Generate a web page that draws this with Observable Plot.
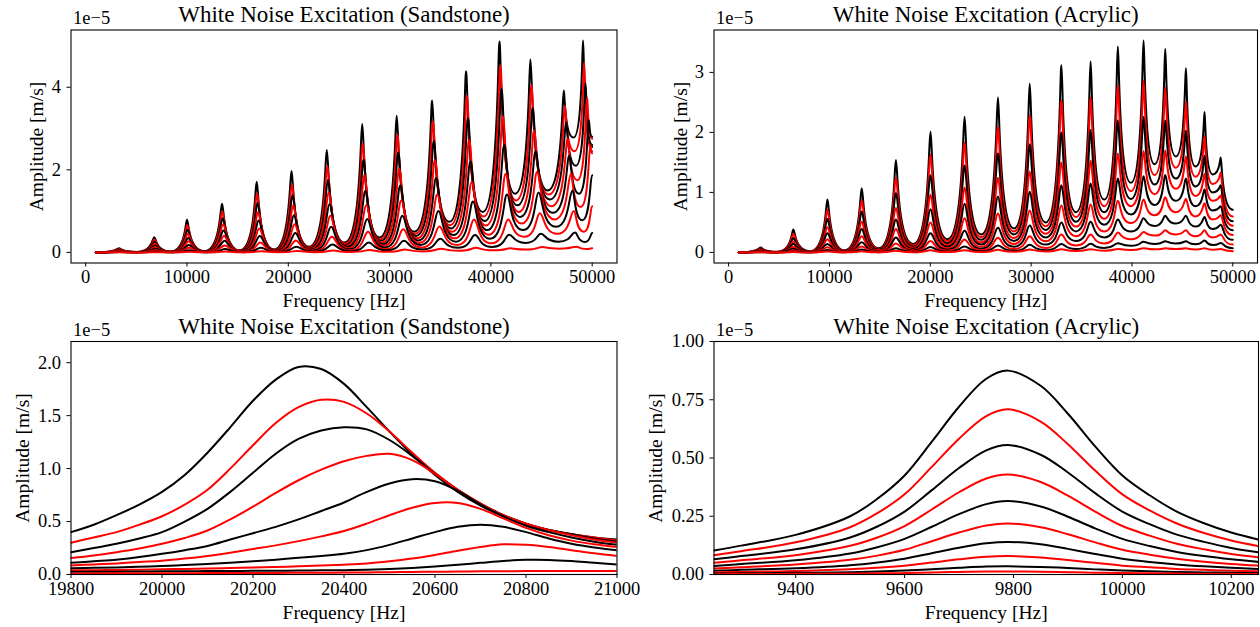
<!DOCTYPE html>
<html><head><meta charset="utf-8">
<script src="https://cdn.jsdelivr.net/npm/d3@7"></script>
<script src="https://cdn.jsdelivr.net/npm/@observablehq/plot@0.6"></script>
<style>
body{margin:0;background:#fff;}
#fig{position:relative;width:1260px;height:627px;overflow:hidden;background:#fff;}
#fig svg{position:absolute;overflow:visible;}
</style></head><body><div id="fig"></div>
<script>
// ---------- shared ----------
const curveColors = ["black","red","black","red","black","red","black","red","black","red"];
const xTicksWide = [0, 10000, 20000, 30000, 40000, 50000];

// ---------- Sandstone, full band (amplitudes in 1e-5 m/s) ----------
const sandPeakHz = [3300, 6770, 10000, 13460, 16880, 20320, 23800, 27300, 30700, 34200, 37550, 40850, 43900, 47200, 49100];
const sandValleyHz = [1000, 5000, 8400, 11700, 15200, 18600, 22050, 25550, 29000, 32450, 35900, 39200, 42400, 45600, 48150];
// resonance frequency of each curve for the ~20.3 kHz mode
const sandModeHz = [20320, 20365, 20420, 20486, 20555, 20624, 20691, 20750, 20800, 20850];
const sandPeakAmp = [
  [0.10, 0.37, 0.79, 1.18, 1.71, 1.97, 2.48, 3.11, 3.31, 3.68, 4.39, 5.11, 4.67, 3.92, 5.13],
  [0.084, 0.31, 0.66, 0.99, 1.43, 1.65, 2.10, 2.64, 2.85, 3.17, 3.80, 4.53, 4.05, 3.55, 4.60],
  [0.07, 0.26, 0.55, 0.83, 1.20, 1.39, 1.76, 2.24, 2.42, 2.69, 3.25, 3.96, 3.50, 3.15, 4.10],
  [0.058, 0.21, 0.45, 0.68, 0.98, 1.14, 1.46, 1.87, 2.02, 2.24, 2.72, 3.30, 2.95, 2.75, 3.75],
  [0.046, 0.17, 0.35, 0.53, 0.77, 0.90, 1.17, 1.49, 1.62, 1.80, 2.20, 2.60, 2.45, 2.35, 3.20],
  [0.034, 0.125, 0.27, 0.40, 0.58, 0.68, 0.89, 1.15, 1.26, 1.40, 1.70, 1.90, 1.95, 1.90, 2.60],
  [0.024, 0.087, 0.18, 0.28, 0.40, 0.47, 0.62, 0.81, 0.89, 1.00, 1.23, 1.40, 1.45, 1.50, 1.87],
  [0.014, 0.053, 0.11, 0.17, 0.24, 0.29, 0.38, 0.50, 0.56, 0.63, 0.80, 0.80, 0.95, 1.00, null],
  [0.007, 0.025, 0.05, 0.08, 0.115, 0.14, 0.19, 0.24, 0.28, 0.33, 0.42, 0.43, 0.45, 0.48, null],
  [0.002, 0.006, 0.013, 0.02, 0.028, 0.035, 0.047, 0.06, 0.07, 0.09, 0.11, 0.10, 0.13, 0.14, null]
];
const sandValleyAmp = [
  [0, 0.01, 0.02, 0.03, 0.05, 0.07, 0.14, 0.24, 0.36, 0.50, 0.74, 0.98, 1.42, 1.50, 2.78],
  [0, 0.008, 0.017, 0.025, 0.042, 0.06, 0.12, 0.21, 0.32, 0.45, 0.66, 0.87, 1.26, 1.40, 2.45],
  [0, 0.007, 0.014, 0.021, 0.035, 0.052, 0.105, 0.18, 0.28, 0.40, 0.58, 0.76, 1.14, 1.28, 2.10],
  [0, 0.006, 0.012, 0.017, 0.03, 0.045, 0.09, 0.155, 0.24, 0.34, 0.50, 0.65, 0.98, 1.12, 1.75],
  [0, 0.005, 0.009, 0.014, 0.025, 0.037, 0.075, 0.13, 0.20, 0.29, 0.42, 0.54, 0.86, 0.96, 1.42],
  [0, 0.004, 0.007, 0.011, 0.02, 0.03, 0.06, 0.10, 0.16, 0.23, 0.34, 0.43, 0.70, 0.80, 1.10],
  [0, 0.003, 0.005, 0.008, 0.015, 0.022, 0.045, 0.075, 0.12, 0.18, 0.26, 0.33, 0.54, 0.62, 0.78],
  [0, 0.002, 0.003, 0.005, 0.01, 0.015, 0.03, 0.05, 0.08, 0.12, 0.18, 0.22, 0.38, 0.45, 0.50],
  [0, 0.001, 0.002, 0.003, 0.006, 0.009, 0.018, 0.03, 0.05, 0.07, 0.11, 0.13, 0.23, 0.26, 0.25],
  [0, 0, 0.001, 0.001, 0.002, 0.003, 0.006, 0.01, 0.015, 0.025, 0.04, 0.05, 0.07, 0.09, 0.08]
];
const sandEndAmp = [2.55, 2.45, 2.60, 2.75, 2.80, 2.40, 1.87, 1.12, 0.47, 0.10];

// ---------- Sandstone, zoom on the ~20.3 kHz mode (50 Hz steps) ----------
const sandZoomHz = [19800, 19850, 19900, 19950, 20000, 20050, 20100, 20150, 20200, 20250, 20300, 20350, 20400,
                    20450, 20500, 20550, 20600, 20650, 20700, 20750, 20800, 20850, 20900, 20950, 21000];
const sandZoomAmp = [
  [0.40, 0.47, 0.56, 0.66, 0.78, 0.94, 1.15, 1.39, 1.64, 1.84, 1.96, 1.94, 1.80, 1.58, 1.35, 1.13, 0.94, 0.78, 0.65, 0.55, 0.47, 0.42, 0.38, 0.35, 0.33],
  [0.30, 0.35, 0.40, 0.47, 0.55, 0.66, 0.80, 1.00, 1.22, 1.43, 1.58, 1.65, 1.63, 1.52, 1.35, 1.15, 0.96, 0.80, 0.67, 0.56, 0.48, 0.42, 0.38, 0.35, 0.32],
  [0.21, 0.25, 0.29, 0.34, 0.40, 0.50, 0.62, 0.78, 0.96, 1.14, 1.28, 1.36, 1.39, 1.37, 1.27, 1.12, 0.95, 0.80, 0.67, 0.56, 0.48, 0.42, 0.38, 0.34, 0.31],
  [0.155, 0.18, 0.21, 0.245, 0.29, 0.345, 0.415, 0.52, 0.64, 0.77, 0.89, 0.99, 1.07, 1.12, 1.14, 1.08, 0.95, 0.80, 0.67, 0.56, 0.48, 0.42, 0.37, 0.33, 0.30],
  [0.11, 0.125, 0.14, 0.165, 0.195, 0.23, 0.27, 0.33, 0.39, 0.45, 0.52, 0.60, 0.68, 0.78, 0.86, 0.90, 0.88, 0.79, 0.66, 0.55, 0.46, 0.40, 0.35, 0.31, 0.28],
  [0.085, 0.095, 0.105, 0.118, 0.13, 0.15, 0.175, 0.205, 0.24, 0.275, 0.315, 0.36, 0.41, 0.48, 0.56, 0.63, 0.675, 0.675, 0.62, 0.53, 0.44, 0.37, 0.32, 0.285, 0.26],
  [0.06, 0.063, 0.067, 0.073, 0.08, 0.09, 0.10, 0.112, 0.125, 0.14, 0.158, 0.175, 0.195, 0.23, 0.28, 0.34, 0.40, 0.45, 0.47, 0.45, 0.40, 0.34, 0.29, 0.255, 0.23],
  [0.04, 0.041, 0.043, 0.046, 0.05, 0.053, 0.057, 0.061, 0.066, 0.071, 0.077, 0.084, 0.093, 0.105, 0.125, 0.15, 0.185, 0.225, 0.26, 0.285, 0.28, 0.26, 0.23, 0.20, 0.175],
  [0.025, 0.026, 0.027, 0.028, 0.03, 0.031, 0.032, 0.033, 0.035, 0.036, 0.037, 0.039, 0.041, 0.045, 0.052, 0.062, 0.075, 0.092, 0.11, 0.128, 0.139, 0.138, 0.127, 0.11, 0.095],
  [0.01, 0.0105, 0.011, 0.0115, 0.012, 0.0125, 0.013, 0.0135, 0.014, 0.015, 0.016, 0.017, 0.018, 0.02, 0.022, 0.024, 0.026, 0.028, 0.03, 0.031, 0.032, 0.033, 0.033, 0.033, 0.032]
];

// ---------- Acrylic, full band ----------
const acrylPeakHz = [3190, 6420, 9800, 13200, 16590, 20020, 23400, 26710, 29860, 33000, 35900, 38600, 41150, 43300, 45350, 47200, 48800];
const acrylValleyHz = [1000, 4800, 8100, 11500, 14900, 18300, 21700, 25050, 28300, 31450, 34450, 37250, 39900, 42250, 44350, 46300, 48000];
const acrylPeakAmp = [
  [0.083, 0.38, 0.88, 1.07, 1.54, 2.01, 2.26, 2.58, 2.81, 3.12, 3.18, 3.43, 3.53, 3.39, 3.07, 2.34, 1.58],
  [0.067, 0.31, 0.71, 0.87, 1.25, 1.63, 1.83, 2.09, 2.28, 2.53, 2.58, 2.78, 2.86, 2.75, 2.52, 1.94, 1.33],
  [0.053, 0.24, 0.56, 0.68, 0.99, 1.29, 1.45, 1.65, 1.80, 2.00, 2.04, 2.20, 2.26, 2.20, 2.03, 1.61, 1.12],
  [0.04, 0.18, 0.42, 0.51, 0.74, 0.96, 1.08, 1.24, 1.35, 1.50, 1.53, 1.65, 1.69, 1.70, 1.60, 1.31, 0.95],
  [0.03, 0.14, 0.32, 0.39, 0.55, 0.72, 0.81, 0.93, 1.01, 1.12, 1.15, 1.23, 1.27, 1.29, 1.23, 1.05, 0.77],
  [0.021, 0.095, 0.22, 0.27, 0.39, 0.50, 0.57, 0.65, 0.70, 0.78, 0.80, 0.86, 0.88, 0.92, 0.89, 0.82, 0.62],
  [0.013, 0.061, 0.14, 0.17, 0.25, 0.32, 0.36, 0.41, 0.45, 0.50, 0.51, 0.55, 0.57, 0.61, 0.61, 0.59, 0.46],
  [0.008, 0.036, 0.084, 0.10, 0.15, 0.19, 0.215, 0.245, 0.27, 0.30, 0.30, 0.33, 0.34, 0.37, 0.37, 0.37, 0.30],
  [0.004, 0.017, 0.04, 0.048, 0.069, 0.09, 0.10, 0.116, 0.126, 0.14, 0.143, 0.154, 0.177, 0.186, 0.184, 0.20, 0.158],
  [0.001, 0.006, 0.015, 0.018, 0.026, 0.034, 0.038, 0.044, 0.048, 0.053, 0.054, 0.058, 0.071, 0.068, 0.068, 0.07, 0.055]
];
const acrylValleyAmp = [
  [0, 0.01, 0.02, 0.035, 0.07, 0.14, 0.22, 0.30, 0.40, 0.50, 0.67, 0.88, 1.16, 1.47, 1.60, 1.43, 1.30],
  [0, 0.008, 0.016, 0.028, 0.057, 0.12, 0.19, 0.255, 0.35, 0.435, 0.59, 0.77, 1.02, 1.29, 1.41, 1.26, 1.14],
  [0, 0.006, 0.013, 0.022, 0.045, 0.098, 0.154, 0.21, 0.30, 0.375, 0.51, 0.67, 0.89, 1.13, 1.23, 1.10, 1.00],
  [0, 0.005, 0.01, 0.017, 0.034, 0.078, 0.123, 0.168, 0.24, 0.31, 0.43, 0.56, 0.77, 0.97, 1.06, 0.94, 0.86],
  [0, 0.004, 0.007, 0.013, 0.025, 0.06, 0.095, 0.13, 0.19, 0.25, 0.35, 0.46, 0.63, 0.79, 0.86, 0.77, 0.70],
  [0, 0.003, 0.005, 0.009, 0.018, 0.043, 0.068, 0.093, 0.14, 0.185, 0.27, 0.35, 0.49, 0.62, 0.67, 0.60, 0.55],
  [0, 0.002, 0.003, 0.006, 0.011, 0.029, 0.046, 0.063, 0.096, 0.13, 0.19, 0.25, 0.35, 0.44, 0.48, 0.43, 0.39],
  [0, 0.001, 0.002, 0.003, 0.007, 0.017, 0.026, 0.036, 0.056, 0.075, 0.114, 0.15, 0.22, 0.28, 0.30, 0.27, 0.25],
  [0, 0, 0.001, 0.002, 0.003, 0.008, 0.013, 0.018, 0.026, 0.038, 0.057, 0.075, 0.11, 0.14, 0.15, 0.136, 0.124],
  [0, 0, 0, 0.001, 0.001, 0.003, 0.005, 0.007, 0.01, 0.015, 0.022, 0.029, 0.041, 0.051, 0.056, 0.05, 0.046]
];
const acrylEndAmp = [0.71, 0.60, 0.52, 0.445, 0.37, 0.29, 0.21, 0.13, 0.071, 0.021];

// ---------- Acrylic, zoom on the ~9.8 kHz mode ----------
const acrylZoomHz = [9250, 9300, 9400, 9500, 9550, 9600, 9650, 9700, 9750, 9790, 9850, 9900, 9950, 10000, 10050, 10100, 10150, 10200, 10250];
const acrylZoomAmp = [
  [0.103, 0.124, 0.17, 0.25, 0.325, 0.425, 0.57, 0.72, 0.84, 0.875, 0.81, 0.69, 0.55, 0.425, 0.34, 0.27, 0.22, 0.18, 0.15],
  [0.083, 0.100, 0.138, 0.203, 0.263, 0.344, 0.462, 0.583, 0.680, 0.709, 0.656, 0.559, 0.446, 0.344, 0.275, 0.219, 0.178, 0.146, 0.122],
  [0.065, 0.079, 0.108, 0.159, 0.206, 0.270, 0.362, 0.457, 0.533, 0.556, 0.514, 0.438, 0.349, 0.270, 0.216, 0.171, 0.140, 0.114, 0.095],
  [0.050, 0.061, 0.083, 0.123, 0.159, 0.208, 0.279, 0.353, 0.412, 0.429, 0.397, 0.338, 0.270, 0.208, 0.167, 0.132, 0.108, 0.088, 0.074],
  [0.037, 0.045, 0.061, 0.090, 0.117, 0.153, 0.205, 0.259, 0.302, 0.315, 0.292, 0.248, 0.198, 0.153, 0.122, 0.097, 0.079, 0.065, 0.054],
  [0.026, 0.031, 0.043, 0.063, 0.081, 0.106, 0.143, 0.180, 0.210, 0.219, 0.203, 0.173, 0.138, 0.106, 0.085, 0.068, 0.055, 0.045, 0.038],
  [0.016, 0.020, 0.027, 0.040, 0.052, 0.068, 0.091, 0.115, 0.134, 0.140, 0.130, 0.110, 0.088, 0.068, 0.054, 0.043, 0.035, 0.029, 0.024],
  [0.009, 0.011, 0.015, 0.023, 0.029, 0.038, 0.051, 0.065, 0.076, 0.079, 0.073, 0.062, 0.050, 0.038, 0.031, 0.024, 0.020, 0.016, 0.014],
  [0.004, 0.005, 0.007, 0.010, 0.013, 0.017, 0.023, 0.029, 0.034, 0.035, 0.032, 0.028, 0.022, 0.017, 0.014, 0.011, 0.009, 0.007, 0.006],
  [0.0015, 0.002, 0.003, 0.004, 0.005, 0.006, 0.009, 0.011, 0.013, 0.013, 0.012, 0.010, 0.008, 0.006, 0.005, 0.004, 0.003, 0.003, 0.002]
];

// ---------- build series ----------
const END_HZ = 50000;
function bandSeries(peakHz, valleyHz, peakAmp, valleyAmp, endAmp, k, modeHz) {
  const r = modeHz ? modeHz[k] / modeHz[0] : 1;
  const pts = [{hz: valleyHz[0], amp: valleyAmp[k][0]}];
  for (let i = 0; i < peakHz.length; i++) {
    const ph = peakHz[i] * r;
    if (ph < END_HZ && peakAmp[k][i] != null) pts.push({hz: ph, amp: peakAmp[k][i]});
    if (i + 1 < valleyHz.length) {
      const vh = valleyHz[i + 1] * r;
      if (vh < END_HZ) pts.push({hz: vh, amp: valleyAmp[k][i + 1]});
    }
  }
  pts.push({hz: END_HZ, amp: endAmp[k]});
  return pts;
}
function zoomSeries(hz, amp, k) {
  return hz.map((h, i) => ({hz: h, amp: amp[k][i]}));
}

// resonance-style curve: flat through troughs, narrowing toward crests
function resonanceCurve(a, b) {
  return function(context) {
    let xs = [], ys = [];
    return {
      areaStart() {}, areaEnd() {},
      lineStart() { xs = []; ys = []; },
      point(x, y) { xs.push(+x); ys.push(+y); },
      lineEnd() {
        if (!xs.length) return;
        context.moveTo(xs[0], ys[0]);
        for (let i = 1; i < xs.length; i++) {
          const x0 = xs[i - 1], y0 = ys[i - 1], x1 = xs[i], y1 = ys[i], dx = x1 - x0;
          if (y1 < y0) context.bezierCurveTo(x0 + a * dx, y0, x0 + b * dx, y1, x1, y1);
          else context.bezierCurveTo(x0 + (1 - b) * dx, y0, x0 + (1 - a) * dx, y1, x1, y1);
        }
      }
    };
  };
}
const bandCurves = d3.range(10).map(k => resonanceCurve(0.93 - 0.019 * k, 0.90 - 0.02 * k));

const FONT = "'Liberation Serif','DejaVu Serif',serif";
function panel(o) {
  const lineMarks = o.series.map((s, k) => Plot.line(s, {x: "hz", y: "amp", stroke: curveColors[k], strokeWidth: 2, curve: o.curves ? o.curves[k] : o.curve, clip: true}));
  const svg = Plot.plot({
    width: o.width, height: o.height,
    marginTop: o.mt, marginRight: o.mr, marginBottom: o.mb, marginLeft: o.ml,
    style: {fontFamily: FONT, fontSize: "18.5px", color: "#000", background: "transparent", overflow: "visible"},
    x: {domain: o.xDomain},
    y: {domain: o.yDomain},
    marks: [
      ...lineMarks,
      Plot.frame({stroke: "#000", strokeWidth: 1.1}),
      Plot.axisX({ticks: o.xTicks, tickFormat: d3.format("d"), tickSize: 4, tickPadding: 3, label: null, fontSize: 18.5}),
      Plot.axisY({ticks: o.yTicks, tickFormat: o.yFmt, tickSize: 4, tickPadding: 6, label: null, fontSize: 18.5}),
      Plot.text([o.title], {frameAnchor: "top", dy: -8, lineAnchor: "bottom", fontSize: 23}),
      Plot.text(["1e\u22125"], {frameAnchor: "top-left", dx: 2, dy: -6, lineAnchor: "bottom", textAnchor: "start", fontSize: 18.5}),
      Plot.text(["Frequency [Hz]"], {frameAnchor: "bottom", dy: 44, lineAnchor: "bottom", fontSize: 19.5}),
      Plot.text(["Amplitude [m/s]"], {frameAnchor: "left", dx: o.ylabDx, rotate: -90, textAnchor: "middle", lineAnchor: "middle", fontSize: 19.5})
    ]
  });
  svg.style.left = o.left + "px";
  svg.style.top = o.top + "px";
  document.getElementById("fig").appendChild(svg);
}

const idx = d3.range(10);
panel({
  left: 0, top: 0, width: 630, height: 313, mt: 29.5, mr: 13.5, mb: 50.5, ml: 70.5,
  xDomain: [-1450, 52450], yDomain: [-0.2565, 5.3865], xTicks: xTicksWide, yTicks: [0, 2, 4], yFmt: d3.format("d"),
  title: "White Noise Excitation (Sandstone)", ylabDx: -34.5, curves: bandCurves,
  series: idx.map(k => bandSeries(sandPeakHz, sandValleyHz, sandPeakAmp, sandValleyAmp, sandEndAmp, k, sandModeHz))
});
panel({
  left: 630, top: 0, width: 630, height: 313, mt: 29.5, mr: 3, mb: 50.5, ml: 83.5,
  xDomain: [-1450, 52450], yDomain: [-0.1765, 3.7065], xTicks: xTicksWide, yTicks: [0, 1, 2, 3], yFmt: d3.format("d"),
  title: "White Noise Excitation (Acrylic)", ylabDx: -33, curves: bandCurves,
  series: idx.map(k => bandSeries(acrylPeakHz, acrylValleyHz, acrylPeakAmp, acrylValleyAmp, acrylEndAmp, k, null))
});
panel({
  left: 0, top: 313, width: 630, height: 314, mt: 28, mr: 13.5, mb: 53, ml: 70.5,
  xDomain: [19800, 21000], yDomain: [0, 2.2], xTicks: [19800, 20000, 20200, 20400, 20600, 20800, 21000], yTicks: [0, 0.5, 1, 1.5, 2], yFmt: d3.format(".1f"),
  title: "White Noise Excitation (Sandstone)", ylabDx: -48.5, curve: "catmull-rom",
  series: idx.map(k => zoomSeries(sandZoomHz, sandZoomAmp, k))
});
panel({
  left: 630, top: 313, width: 630, height: 314, mt: 28, mr: 2, mb: 53, ml: 83.5,
  xDomain: [9250, 10250], yDomain: [0, 1], xTicks: [9400, 9600, 9800, 10000, 10200], yTicks: [0, 0.25, 0.5, 0.75, 1], yFmt: d3.format(".2f"),
  title: "White Noise Excitation (Acrylic)", ylabDx: -58.5, curve: "catmull-rom",
  series: idx.map(k => zoomSeries(acrylZoomHz, acrylZoomAmp, k))
});
</script></body></html>
